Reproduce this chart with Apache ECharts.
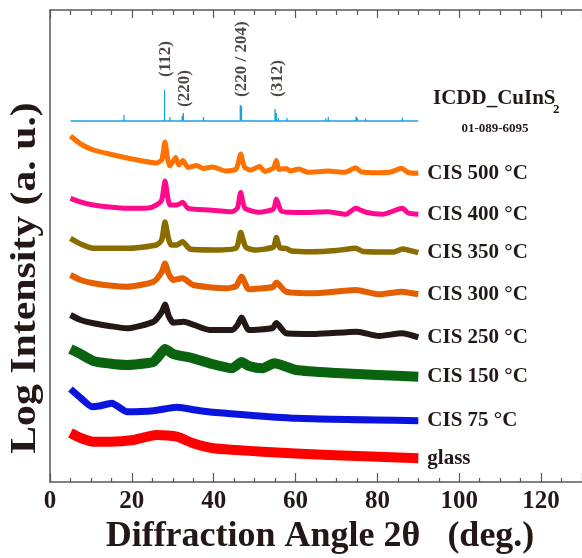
<!DOCTYPE html>
<html>
<head>
<meta charset="utf-8">
<script src="https://cdn.jsdelivr.net/npm/echarts@6/dist/echarts.min.js"></script>
<style>html,body{margin:0;padding:0;background:#fff}#c{width:582px;height:558px}</style>
</head>
<body>
<div id="c"></div>
<script>
// ---- data (2θ in degrees, intensity in offset display units) ----
const xTicks = [0, 20, 40, 60, 80, 100, 120];
const icddBase = 361;
const icddAngles = [18.1, 28.0, 29.3, 32.3, 32.6, 37.5, 44.2, 46.5, 46.8, 50.5, 55.0, 55.3, 55.8, 57.9, 65.9, 67.4, 68.0, 70.7, 74.8, 75.1, 77.1, 77.5, 84.7, 86.1, 89.3];
const icddHeights = [6, 31, 4, 5, 8, 4, 2, 16, 15, 2, 12, 8, 3, 3, 1, 2.5, 4, 2, 4.5, 3, 2.5, 2, 1.5, 3.5, 1.5];
const peakNames = ['(112)', '(220)', '(220 / 204)', '(312)'];
const peakAngles = [28.2, 32.9, 46.7, 55.6];
const peakLabelBase = [405, 375, 385, 385];

const s500 = [[5,346],[7.5,338],[10.6,332],[14.5,328],[18.8,324],[22,321.5],[26,319],[27.3,322],[28.1,340],[28.8,322],[29.3,316],[30.7,324.5],[31.5,317],[32.5,321.5],[33.7,314.5],[35.8,316.5],[37.5,313.5],[39.7,315],[43,311],[45.5,313],[46.6,328],[47.5,315],[49,312],[51.2,315.5],[52.5,310.5],[54.6,314],[55.3,321.5],[56,312.5],[57.7,313.5],[58.7,311],[60.8,313],[63,309.7],[68,311],[72,309.7],[74.7,314.3],[76,310.3],[80.4,309.3],[83.3,310],[85.9,313.7],[87.5,309.5],[90,308.7]];
const s400 = [[5,283.7],[7.5,280],[10.6,277],[14.5,275],[18.8,273.7],[24,274],[26,277],[27.3,282],[28.1,301],[28.8,284],[29.3,277],[31,277],[32.4,279.7],[33.7,273.7],[39,272],[44.5,270.3],[45.8,274],[46.6,289.5],[47.6,274],[51,269.7],[54.6,273],[55.3,283],[56.5,271],[58.5,269.7],[63,269.5],[67.8,270.3],[72.3,267.7],[74.7,273.7],[77.2,269.7],[81.2,267.7],[86.1,273.7],[87.5,269],[90,267.7]];
const s350 = [[5,243.7],[7.5,238],[10.6,233.7],[18.8,233.7],[26,237],[27.3,242],[28.1,260],[28.9,244],[29.6,237],[31,237],[32.4,240.3],[34.2,233],[40,232],[45.5,234],[46.6,249.5],[47.8,235],[50,232],[54.6,235],[55.3,244.5],[56.2,234],[57.7,233.7],[59,231],[64,230.3],[70,231.5],[74.7,233.7],[76.5,230.5],[84,230],[86.1,233],[90,229.3]];
const s300 = [[5,207],[7.5,202],[10.6,198.7],[14.5,196.5],[18.8,195.3],[25.3,200.3],[27.3,210],[28.1,218.5],[29,208],[30.1,202],[32.4,203.7],[35,197],[43,193.7],[45.5,196],[46.8,205.5],[48.6,192.7],[54.5,195],[55.3,199.5],[57.7,190.3],[64,188.7],[74.7,192],[80.4,187.7],[86,190.3],[90,187.7]];
const s250 = [[5,167],[7.5,162],[10.6,158.7],[14.5,156],[18.8,153.7],[25.3,160.3],[27.3,170],[28.1,177.5],[29,166],[30.1,159.3],[32.6,160.3],[39,152],[44.5,152],[45.8,157],[46.8,164.5],[48.6,152],[54.4,154],[55.3,159],[57.7,148.7],[65,148],[75,150.3],[80.4,146],[86,148.7],[90,144.7]];
const s150 = [[5,133],[7,129],[10.6,121],[14.5,118.5],[18.8,117],[24,119],[25.3,120.3],[27,128],[28.1,133],[30.1,128],[35,123.7],[39,118.7],[44.5,113.7],[46.8,120],[48.6,116],[51.9,113.7],[54.8,118.7],[60.2,112],[70,109],[80,107],[90,105.3]];
const s75 = [[5,93],[7.6,83.7],[10.3,75.3],[12,76],[15.1,78.7],[18.8,70.3],[25.3,71.3],[31,74.7],[36.6,71.3],[43,68.7],[60.2,63.7],[90,61.3]];
const sGlass = [[5,49],[7.5,44],[10.6,40.3],[14.7,40.3],[20.4,42],[26,47],[31,45.3],[35,38.7],[39.9,33.7],[45.5,32],[52,30.3],[68,27],[90,23.7]];

const seriesNames = ['CIS 500 °C','CIS 400 °C','CIS 350 °C','CIS 300 °C','CIS 250 °C','CIS 150 °C','CIS 75 °C','glass'];
const seriesData = [s500, s400, s350, s300, s250, s150, s75, sGlass];
const seriesColors = ['#FF7200','#FF0A8C','#8A6D00','#E35F00','#231815','#0A640F','#0A14DC','#FF0000'];
const seriesWidths = [5, 5, 5.5, 6, 6, 10, 7, 10];

// ---- build ----
const TXT = '#231815';
const FF = '"Liberation Serif", "Times New Roman", serif';
const AX = '#595757';

const icddLine = [[5, icddBase]];
icddAngles.forEach((a, i) => {
  icddLine.push([a, icddBase], [a, icddBase + icddHeights[i]], [a, icddBase]);
});
icddLine.push([90, icddBase]);

const series = [];
series.push({
  type: 'line', data: icddLine, showSymbol: false, silent: true,
  lineStyle: { color: '#1EA0DC', width: 1.3 }, z: 3
});
seriesData.forEach((d, i) => {
  series.push({
    type: 'line', name: seriesNames[i], data: d, showSymbol: false, silent: true,
    smooth: 0.2,
    lineStyle: { color: seriesColors[i], width: seriesWidths[i], join: 'round' },
    endLabel: { show: true, formatter: seriesNames[i], distance: 9,
      fontSize: 21, fontWeight: 'bold', fontFamily: FF, color: TXT },
    z: 2
  });
});
series.push({
  type: 'scatter', symbolSize: 0, silent: true,
  data: peakAngles.map((a, i) => ({ value: [a, peakLabelBase[i]], name: peakNames[i] })),
  label: { show: true, position: 'inside', rotate: 90, align: 'left', verticalAlign: 'middle',
    formatter: p => p.name, fontSize: 17, fontWeight: 'bold', fontFamily: FF, color: TXT },
  z: 5
});

const axisCommon = {
  type: 'value', min: 0, max: 130, interval: 20,
  axisLine: { show: true, onZero: false, lineStyle: { color: AX, width: 1.5 } },
  splitLine: { show: false }
};

const option = {
  animation: false,
  grid: { left: 50, right: -2, top: 10, bottom: 76 },
  xAxis: [
    Object.assign({}, axisCommon, {
      position: 'bottom',
      axisTick: { show: true, inside: true, length: 9, lineStyle: { color: AX, width: 1.2 } },
      minorTick: { show: true, splitNumber: 4, length: 4, lineStyle: { color: AX, width: 1.2 } },
      axisLabel: { show: true, showMaxLabel: false, margin: 7, fontSize: 25, fontWeight: 'bold', fontFamily: FF, color: TXT,
        formatter: v => (xTicks.indexOf(v) >= 0 ? String(v) : '') }
    }),
    Object.assign({}, axisCommon, {
      position: 'top',
      axisTick: { show: true, inside: true, length: 8, lineStyle: { color: AX, width: 1.2 } },
      minorTick: { show: true, splitNumber: 4, length: 5, lineStyle: { color: AX, width: 1.2 } },
      axisLabel: { show: false }
    })
  ],
  yAxis: {
    type: 'value', min: 0, max: 472,
    axisLine: { show: true, lineStyle: { color: AX, width: 1.5 } },
    axisTick: { show: false }, axisLabel: { show: false }, splitLine: { show: false }
  },
  graphic: [
    { type: 'text', left: 433, top: 88, style: { text: 'ICDD_CuInS', font: 'bold 21px ' + FF, fill: TXT } },
    { type: 'text', left: 553, top: 103, style: { text: '2', font: 'bold 13px ' + FF, fill: TXT } },
    { type: 'text', x: 495, y: 129, style: { text: '01-089-6095', font: 'bold 13px ' + FF, fill: TXT, align: 'center', verticalAlign: 'middle' } },
    { type: 'text', x: 26, y: 278, rotation: Math.PI / 2, scaleX: 1.16, style: { text: 'Log Intensity (a. u.)', font: 'bold 36px ' + FF, fill: TXT, align: 'center', verticalAlign: 'middle' } },
    { type: 'text', x: 320, y: 537, style: { text: 'Diffraction Angle 2θ   (deg.)', font: 'bold 36px ' + FF, fill: TXT, align: 'center', verticalAlign: 'middle' } }
  ],
  series: series
};

const chart = echarts.init(document.getElementById('c'), null, { renderer: 'canvas' });
chart.setOption(option);
</script>
</body>
</html>
